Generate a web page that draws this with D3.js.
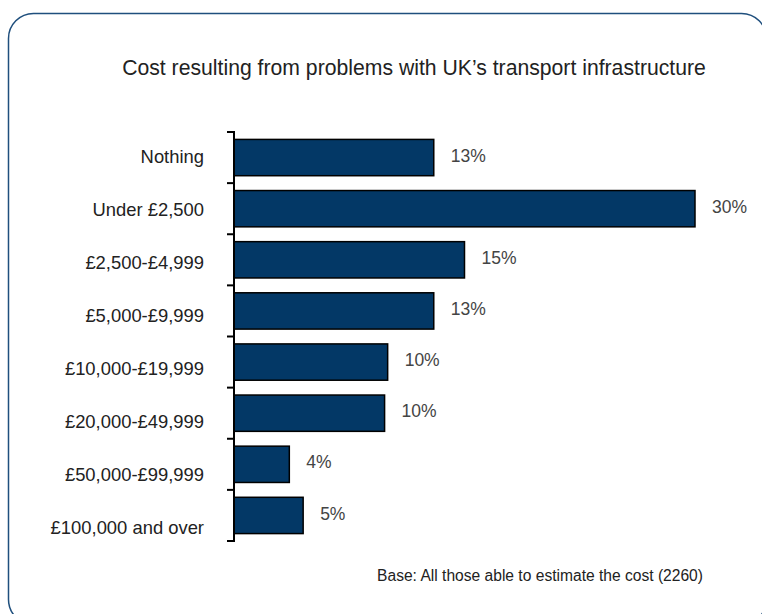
<!DOCTYPE html>
<html>
<head>
<meta charset="utf-8">
<script src="https://cdn.jsdelivr.net/npm/d3@7"></script>
<style>
  html, body { margin: 0; padding: 0; background: #fff; }
  svg { display: block; font-family: "Liberation Sans", Arial, Helvetica, sans-serif; }
</style>
</head>
<body>
<svg id="chart" width="762" height="614"></svg>
<script>
const categories = ["Nothing", "Under £2,500", "£2,500-£4,999", "£5,000-£9,999",
  "£10,000-£19,999", "£20,000-£49,999", "£50,000-£99,999", "£100,000 and over"];
const values = [13, 30, 15, 13, 10, 9.8, 3.6, 4.5];
const titleText = "Cost resulting from problems with UK\u2019s transport infrastructure";
const baseText = "Base: All those able to estimate the cost (2260)";

const svg = d3.select("#chart");

// frame
svg.append("rect")
  .attr("x", 8.5).attr("y", 13.5)
  .attr("width", 758).attr("height", 611)
  .attr("rx", 25).attr("ry", 25)
  .attr("fill", "none")
  .attr("stroke", "#1f4f7d")
  .attr("stroke-width", 1.5);

// title
svg.append("text")
  .attr("x", 414).attr("y", 75)
  .attr("text-anchor", "middle")
  .attr("font-size", 21.2)
  .attr("fill", "#222")
  .text(titleText);

const x = d3.scaleLinear().domain([0, 30]).range([234, 695]);
const y = d3.scaleBand().domain(categories).range([132, 541])
  .paddingInner(0.29).paddingOuter(0.145);
const yEdge = d3.scaleLinear().domain([0, categories.length]).range([132, 541]);
const yLab = d3.scalePoint().domain(categories).range([157, 528]);

// bars
svg.append("g").selectAll("rect")
  .data(categories)
  .join("rect")
  .attr("x", x(0))
  .attr("y", d => y(d))
  .attr("width", (d, i) => x(values[i]) - x(0))
  .attr("height", y.bandwidth())
  .attr("fill", "#033866")
  .attr("stroke", "#000")
  .attr("stroke-width", 1.5);

// axis line and ticks at band edges
const ax = svg.append("g");
ax.append("line")
  .attr("x1", x(0)).attr("x2", x(0))
  .attr("y1", yEdge(0) - 1).attr("y2", yEdge(categories.length) + 1)
  .attr("stroke", "#000").attr("stroke-width", 2);
ax.selectAll("line.tick")
  .data(d3.range(categories.length + 1))
  .join("line")
  .attr("class", "tick")
  .attr("x1", x(0) - 7).attr("x2", x(0))
  .attr("y1", d => yEdge(d)).attr("y2", d => yEdge(d))
  .attr("stroke", "#000").attr("stroke-width", 2);

// category labels
svg.append("g").selectAll("text")
  .data(categories)
  .join("text")
  .attr("x", 204)
  .attr("y", d => yLab(d))
  .attr("dy", "0.35em")
  .attr("text-anchor", "end")
  .attr("font-size", 18.4)
  .attr("fill", "#222")
  .text(d => d);

// value labels
svg.append("g").selectAll("text")
  .data(categories)
  .join("text")
  .attr("x", (d, i) => x(values[i]) + 17)
  .attr("y", d => y(d) + y.bandwidth() / 2 - 2)
  .attr("dy", "0.35em")
  .attr("font-size", 17.5)
  .attr("fill", "#444")
  .text((d, i) => Math.round(values[i]) + "%");

// base note
svg.append("text")
  .attr("x", 703).attr("y", 581)
  .attr("text-anchor", "end")
  .attr("font-size", 15.6)
  .attr("fill", "#222")
  .text(baseText);
</script>
</body>
</html>
